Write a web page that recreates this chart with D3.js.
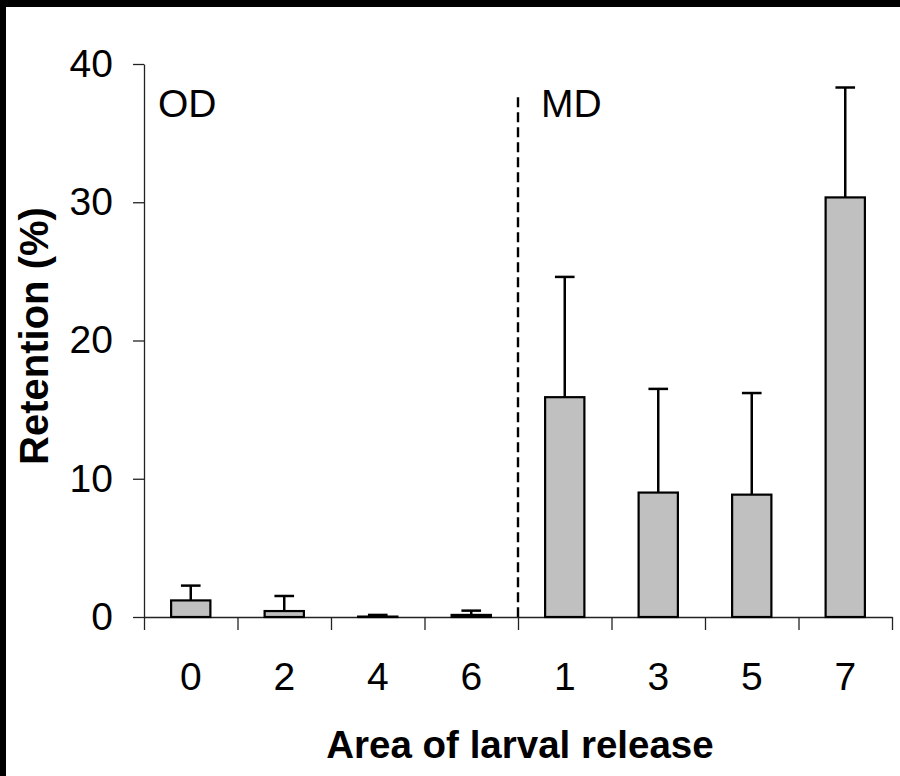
<!DOCTYPE html>
<html>
<head>
<meta charset="utf-8">
<script src="https://cdn.jsdelivr.net/npm/d3@7"></script>
<style>
  body { margin: 0; background: #fff; }
  svg { display: block; }
  text { font-family: "Liberation Sans", Arial, sans-serif; fill: #000; }
  .axis path, .axis line { stroke: #222; stroke-width: 1.3; }
  .axis text { font-size: 39px; }
  .bar { fill: #c0c0c0; stroke: #000; stroke-width: 2.2; }
  .err { stroke: #000; stroke-width: 2.5; fill: none; }
</style>
</head>
<body>
<svg id="chart" width="900" height="776"></svg>
<script>
// areas of larval release, OD group first then MD group
var areas = ["0", "2", "4", "6", "1", "3", "5", "7"];
var retention = [1.2, 0.43, 0.03, 0.15, 15.9, 9.0, 8.85, 30.35];
var errUp = [1.07, 1.09, 0.12, 0.31, 8.7, 7.5, 7.35, 7.95];
var yTicks = [0, 10, 20, 30, 40];
var groups = [{name: "OD", from: "0"}, {name: "MD", from: "1"}];

var svg = d3.select("#chart"),
    margin = {top: 64, right: 8, bottom: 159, left: 144},
    width = +svg.attr("width") - margin.left - margin.right,
    height = +svg.attr("height") - margin.top - margin.bottom;

// black frame on the top and left edge
svg.append("rect").attr("x", 0).attr("y", 0).attr("width", 900).attr("height", 7).attr("fill", "#000");
svg.append("rect").attr("x", 0).attr("y", 0).attr("width", 6).attr("height", 776).attr("fill", "#000");

var x = d3.scaleBand().domain(areas).range([0, width]).padding(0),
    xb = d3.scaleLinear().domain([0, areas.length]).range([0, width]),
    y = d3.scaleLinear().domain([0, 40]).range([height, 0]);

var g = svg.append("g")
    .attr("transform", "translate(" + margin.left + "," + margin.top + ")");

var data = areas.map(function (a, i) {
    return {area: a, value: retention[i], err: errUp[i]};
});

// y axis
g.append("g")
    .attr("class", "axis axis--y")
    .call(d3.axisLeft(y).tickValues(yTicks).tickSizeInner(11).tickSizeOuter(0).tickPadding(20));

// x axis: tick marks at the band edges, labels in the middle
g.append("g")
    .attr("class", "axis axis--x")
    .attr("transform", "translate(0," + height + ")")
    .call(d3.axisBottom(xb).ticks(areas.length).tickFormat("").tickSizeInner(13).tickSizeOuter(0));

g.append("g")
    .attr("class", "axis axis--xlab")
    .attr("transform", "translate(0," + height + ")")
    .call(d3.axisBottom(x).tickSize(0).tickPadding(45))
    .call(function (s) { s.select(".domain").remove(); });

// dashed divider between OD and MD
g.append("line")
    .attr("x1", x("1")).attr("x2", x("1"))
    .attr("y1", y(37.6)).attr("y2", height)
    .attr("stroke", "#000")
    .attr("stroke-width", 2.4)
    .attr("stroke-dasharray", "10,5");

// group labels
g.selectAll(".grp")
    .data(groups)
    .enter().append("text")
    .attr("class", "grp")
    .attr("x", function (d, i) { return x(d.from) + (i === 0 ? 14 : 23); })
    .attr("y", y(36.2))
    .style("font-size", "39px")
    .text(function (d) { return d.name; });

var barW = x.bandwidth() * 0.42;

// error bars (upper only)
var eb = g.selectAll(".errbar")
    .data(data)
    .enter().append("g")
    .attr("class", "errbar");

eb.append("line")
    .attr("class", "err")
    .attr("x1", function (d) { return x(d.area) + x.bandwidth() / 2; })
    .attr("x2", function (d) { return x(d.area) + x.bandwidth() / 2; })
    .attr("y1", function (d) { return y(d.value); })
    .attr("y2", function (d) { return y(d.value + d.err); });

eb.append("line")
    .attr("class", "err")
    .attr("x1", function (d) { return x(d.area) + x.bandwidth() / 2 - barW / 4; })
    .attr("x2", function (d) { return x(d.area) + x.bandwidth() / 2 + barW / 4; })
    .attr("y1", function (d) { return y(d.value + d.err); })
    .attr("y2", function (d) { return y(d.value + d.err); });

g.selectAll(".bar")
    .data(data)
    .enter().append("rect")
    .attr("class", "bar")
    .attr("x", function (d) { return x(d.area) + (x.bandwidth() - barW) / 2; })
    .attr("width", barW)
    .attr("y", function (d) { return y(d.value); })
    .attr("height", function (d) { return height - y(d.value); });

// axis titles
svg.append("text")
    .attr("x", margin.left + width / 2 + 2)
    .attr("y", 758)
    .attr("text-anchor", "middle")
    .style("font-size", "38.5px")
    .style("font-weight", "bold")
    .text("Area of larval release");

svg.append("text")
    .attr("transform", "translate(48,336) rotate(-90)")
    .attr("text-anchor", "middle")
    .style("font-size", "40px")
    .style("font-weight", "bold")
    .text("Retention (%)");
</script>
</body>
</html>
